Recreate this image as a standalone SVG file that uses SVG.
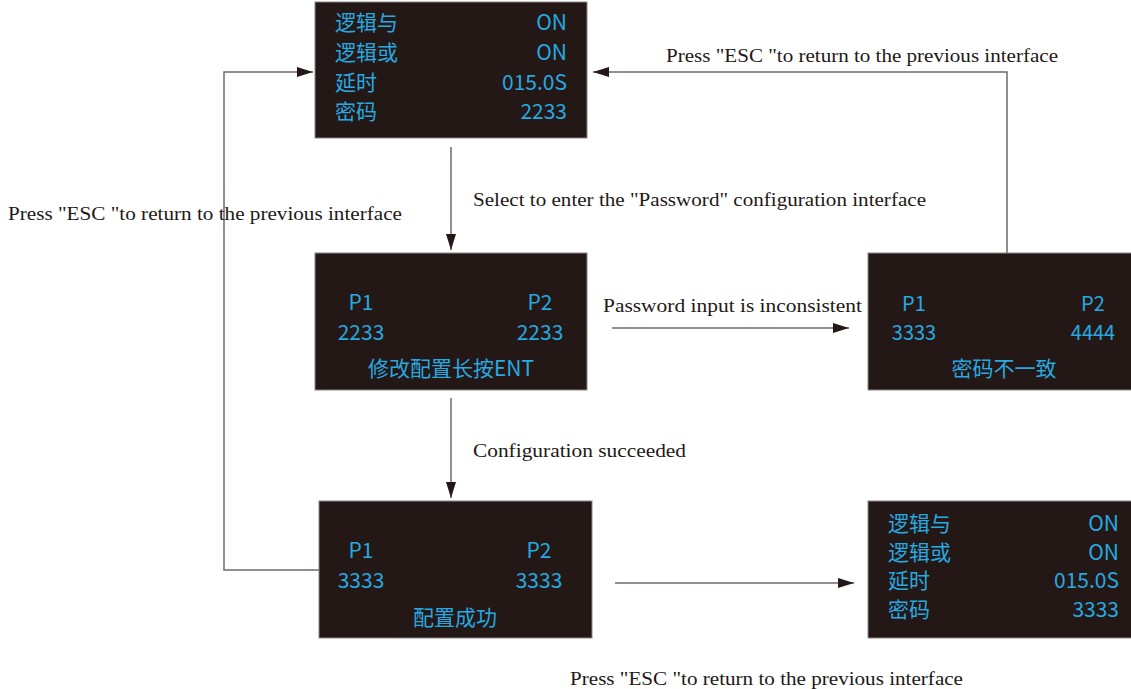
<svg xmlns="http://www.w3.org/2000/svg" width="1131" height="689" viewBox="0 0 1131 689">
<style>
.box{fill:#231815;stroke:#8a8585;stroke-width:1}
.t{font-family:"Noto Sans CJK SC","Noto Sans",sans-serif;font-size:21px;fill:#27a9e1}
.s{font-size:20px}
.r{text-anchor:end}
.m{text-anchor:middle}
.lbl{font-family:"Liberation Serif",serif;font-size:19px;fill:#231815}
.ln{fill:none;stroke:#6f6a6a;stroke-width:1.5}
</style>
<defs>
<marker id="ah" viewBox="0 0 16 10" refX="16" refY="5" markerWidth="16" markerHeight="10" markerUnits="userSpaceOnUse" orient="auto">
<path d="M0,0 L16,5 L0,10 Z" fill="#231815"/>
</marker>
</defs>
<rect width="1131" height="689" fill="#ffffff"/>
<g id="connectors">
<polyline class="ln" points="319,570 224,570 224,72 313,72" marker-end="url(#ah)"/>
<polyline class="ln" points="1007,253 1007,72 593,72" marker-end="url(#ah)"/>
<line class="ln" x1="451" y1="147" x2="451" y2="250" marker-end="url(#ah)"/>
<line class="ln" x1="451" y1="398" x2="451" y2="498" marker-end="url(#ah)"/>
<line class="ln" x1="612" y1="328" x2="849" y2="328" marker-end="url(#ah)"/>
<line class="ln" x1="615" y1="583" x2="854" y2="583" marker-end="url(#ah)"/>
<text class="lbl" x="666" y="62" textLength="392" lengthAdjust="spacingAndGlyphs">Press "ESC "to return to the previous interface</text>
<text class="lbl" x="8" y="220" textLength="394" lengthAdjust="spacingAndGlyphs">Press "ESC "to return to the previous interface</text>
<text class="lbl" x="473" y="206" textLength="453" lengthAdjust="spacingAndGlyphs">Select to enter the "Password" configuration interface</text>
<text class="lbl" x="603" y="312" textLength="259" lengthAdjust="spacingAndGlyphs">Password input is inconsistent</text>
<text class="lbl" x="473" y="457" textLength="213" lengthAdjust="spacingAndGlyphs">Configuration succeeded</text>
<text class="lbl" x="570" y="685" textLength="393" lengthAdjust="spacingAndGlyphs">Press "ESC "to return to the previous interface</text>
</g>
<g id="box1">
<rect class="box" x="315" y="2" width="272" height="136"/>
<text class="t" x="335" y="30">逻辑与</text><text class="t r" x="567" y="30">ON</text>
<text class="t" x="335" y="60">逻辑或</text><text class="t r" x="567" y="60">ON</text>
<text class="t" x="335" y="90">延时</text><text class="t r" x="567" y="90">015.0S</text>
<text class="t" x="335" y="119">密码</text><text class="t r" x="567" y="119">2233</text>
</g>
<g id="box2">
<rect class="box" x="315" y="253" width="272" height="137"/>
<text class="t m" x="361" y="310">P1</text><text class="t m" x="540" y="310">P2</text>
<text class="t m" x="361" y="340">2233</text><text class="t m" x="540" y="340">2233</text>
<text class="t m" x="451" y="376">修改配置长按ENT</text>
</g>
<g id="box3">
<rect class="box" x="868" y="253" width="270" height="137"/>
<text class="t s m" x="914" y="311">P1</text><text class="t s m" x="1093" y="311">P2</text>
<text class="t s m" x="914" y="340">3333</text><text class="t s m" x="1093" y="340">4444</text>
<text class="t m" x="1004" y="376">密码不一致</text>
</g>
<g id="box4">
<rect class="box" x="319" y="501" width="273" height="137"/>
<text class="t m" x="361" y="558">P1</text><text class="t m" x="539" y="558">P2</text>
<text class="t m" x="361" y="588">3333</text><text class="t m" x="539" y="588">3333</text>
<text class="t m" x="455" y="625">配置成功</text>
</g>
<g id="box5">
<rect class="box" x="868" y="501" width="270" height="137"/>
<text class="t" x="888" y="531">逻辑与</text><text class="t r" x="1119" y="531">ON</text>
<text class="t" x="888" y="560">逻辑或</text><text class="t r" x="1119" y="560">ON</text>
<text class="t" x="888" y="588">延时</text><text class="t r" x="1119" y="588">015.0S</text>
<text class="t" x="888" y="617">密码</text><text class="t r" x="1119" y="617">3333</text>
</g>
</svg>
